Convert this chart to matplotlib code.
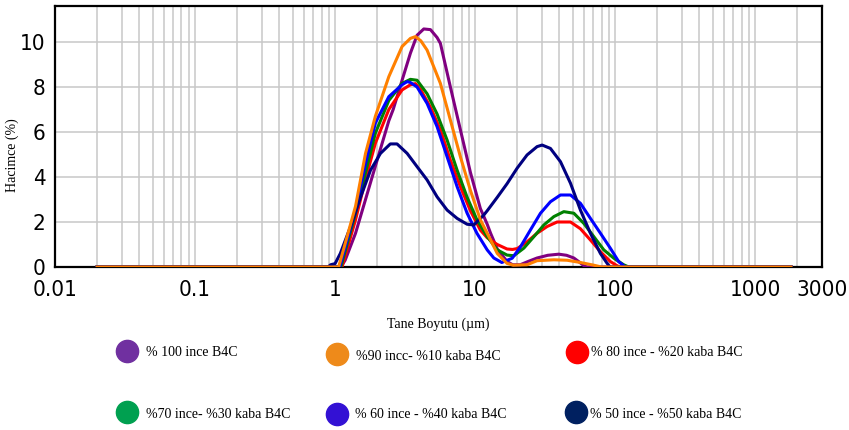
import matplotlib
matplotlib.use('Agg')
import matplotlib.pyplot as plt
from matplotlib.ticker import FixedLocator, NullFormatter

# particle size (um) and volume (%), one pair per mix
size_100 = [0.02, 1.10, 1.18, 1.40, 1.84, 2.42, 2.60, 3.01, 3.45, 3.85, 4.30, 4.80, 5.35, 5.65, 6.66, 7.85, 9.26, 10.9, 12.2, 12.9, 14.4, 16.9, 18.5, 21.0, 24.0, 27.7, 33.0, 39.6, 45.0, 50.7, 56.0, 60.0, 63.0, 1800]
vol_100 = [0, 0, 0.3, 1.5, 4.0, 6.5, 7.0, 8.3, 9.5, 10.3, 10.58, 10.55, 10.2, 9.94, 8.0, 6.1, 4.2, 2.6, 1.9, 1.5, 0.8, 0.25, 0.1, 0.1, 0.25, 0.4, 0.52, 0.57, 0.52, 0.4, 0.2, 0.05, 0, 0]

size_90 = [0.02, 1.06, 1.20, 1.40, 1.65, 1.94, 2.42, 3.01, 3.45, 3.75, 4.10, 4.54, 5.65, 6.66, 7.85, 9.26, 10.9, 12.9, 14.4, 16.9, 18.7, 23.5, 27.7, 36.5, 45.4, 56.5, 70.4, 80.0, 1800]
vol_90 = [0, 0, 1.2, 2.7, 5.05, 6.7, 8.46, 9.8, 10.16, 10.24, 10.05, 9.64, 8.16, 6.53, 4.9, 3.4, 2.1, 1.2, 0.6, 0.16, 0.08, 0.1, 0.28, 0.32, 0.3, 0.2, 0.08, 0, 0]

size_80 = [0.02, 1.12, 1.40, 1.65, 1.94, 2.42, 3.01, 3.45, 3.75, 4.07, 4.80, 5.65, 6.66, 7.85, 9.26, 10.9, 12.2, 13.6, 14.4, 16.9, 18.5, 20.0, 23.5, 27.7, 32.7, 38.5, 48.0, 56.5, 66.6, 78.5, 92.5, 103, 108, 1800]
vol_80 = [0, 0, 2.1, 3.9, 5.5, 7.0, 7.87, 8.1, 8.15, 7.9, 7.1, 6.1, 4.75, 3.57, 2.5, 1.64, 1.3, 1.1, 1.0, 0.8, 0.78, 0.82, 1.12, 1.5, 1.8, 2.0, 2.0, 1.7, 1.2, 0.68, 0.24, 0.06, 0, 0]

size_70 = [0.02, 1.10, 1.40, 1.65, 1.94, 2.42, 3.01, 3.45, 3.85, 4.54, 5.35, 6.31, 7.44, 8.77, 10.3, 12.2, 14.4, 16.9, 18.9, 22.3, 26.3, 31.0, 36.5, 43.0, 50.7, 59.7, 70.4, 83.0, 97.9, 115, 125, 1800]
vol_70 = [0, 0, 2.4, 4.2, 5.95, 7.4, 8.16, 8.34, 8.3, 7.7, 6.8, 5.64, 4.3, 3.1, 2.1, 1.35, 0.76, 0.53, 0.5, 0.84, 1.35, 1.87, 2.24, 2.46, 2.39, 1.94, 1.35, 0.76, 0.39, 0.1, 0, 0]

size_60 = [0.02, 1.08, 1.40, 1.65, 1.94, 2.42, 3.01, 3.27, 3.45, 3.85, 4.54, 5.35, 6.31, 7.44, 8.77, 10.3, 12.2, 13.6, 15.5, 18.4, 21.1, 24.8, 29.3, 34.5, 40.7, 48.0, 56.5, 66.6, 78.5, 92.5, 106, 118, 1800]
vol_60 = [0, 0, 2.53, 4.6, 6.4, 7.57, 8.1, 8.24, 8.2, 8.0, 7.27, 6.24, 4.9, 3.57, 2.39, 1.5, 0.76, 0.4, 0.2, 0.39, 0.9, 1.64, 2.39, 2.9, 3.2, 3.2, 2.83, 2.16, 1.5, 0.83, 0.24, 0, 0]

size_50 = [0.02, 0.89, 0.93, 1.00, 1.09, 1.29, 1.52, 1.79, 2.11, 2.48, 2.77, 3.27, 3.85, 4.54, 5.35, 6.31, 7.44, 8.77, 9.79, 11.5, 12.2, 14.4, 16.9, 20.0, 23.5, 27.7, 30.1, 34.5, 40.7, 48.0, 56.5, 66.6, 78.5, 87.7, 92.0, 1800]
vol_50 = [0, 0, 0.1, 0.15, 0.6, 1.8, 3.1, 4.3, 5.05, 5.47, 5.47, 5.05, 4.46, 3.87, 3.12, 2.53, 2.16, 1.9, 1.87, 2.3, 2.5, 3.1, 3.7, 4.4, 4.98, 5.35, 5.42, 5.27, 4.68, 3.72, 2.53, 1.5, 0.6, 0.16, 0, 0]

labels = ['% 100 ince B4C', '%90 incc- %10 kaba B4C', '% 80 ince - %20 kaba B4C',
          '%70 ince- %30 kaba B4C', '% 60 ince - %40 kaba B4C', '% 50 ince - %50 kaba B4C']
line_colors = ['#800080', '#ff8000', '#ff0000', '#008000', '#0000ff', '#000080']
legend_colors = ['#7030a0', '#ee8a1a', '#ff0000', '#00a050', '#3311d4', '#002060']

xticks = [0.01, 0.1, 1, 10, 100, 1000, 3000]
xticklabels = ['0.01', '0.1', '1', '10', '100', '1000', '3000']
yticks = [0, 2, 4, 6, 8, 10]

sizes = [size_100, size_90, size_80, size_70, size_60, size_50]
vols = [vol_100, vol_90, vol_80, vol_70, vol_60, vol_50]

fig = plt.figure(figsize=(8.49, 4.30), dpi=100)
ax = fig.add_axes([55/849, 1 - 267/430, (822 - 55)/849, (267 - 6)/430])

# orange last so it sits on top of the flat zero line
order = [0, 2, 3, 4, 5, 1]
for i in order:
    ax.plot(sizes[i], vols[i], color=line_colors[i], lw=2.2, solid_joinstyle='round', zorder=3)

ax.set_xscale('log')
ax.set_xlim(0.01, 3000)
ax.set_ylim(0, 11.6)

ax.xaxis.set_major_locator(FixedLocator(xticks))
ax.set_xticklabels(xticklabels)
minor = [m * 10.0**e for e in range(-2, 4) for m in range(2, 10) if m * 10.0**e < 3000]
ax.xaxis.set_minor_locator(FixedLocator(minor))
ax.xaxis.set_minor_formatter(NullFormatter())
ax.set_yticks(yticks)

ax.grid(True, which='both', axis='x', color='#c8c8c8', lw=1.1, zorder=1)
ax.grid(True, which='major', axis='y', color='#c8c8c8', lw=1.1, zorder=1)
ax.set_axisbelow(True)
for s in ax.spines.values():
    s.set_linewidth(1.6)
    s.set_color('black')
ax.tick_params(which='both', length=0)
ax.tick_params(axis='x', pad=9)
ax.tick_params(axis='y', pad=7)
for lab in ax.get_xticklabels() + ax.get_yticklabels():
    lab.set_family('DejaVu Sans')
    lab.set_fontstretch('condensed')
    lab.set_fontsize(16)

serif = ['Liberation Serif', 'DejaVu Serif']
ax.set_ylabel('Hacimce (%)', family=serif, fontsize=10)
ax.yaxis.set_label_coords(-0.047, 0.43)
ax.set_xlabel('Tane Boyutu (\u00b5m)', family=serif, fontsize=10)
ax.xaxis.set_label_coords(0.5, -0.195)

# legend drawn by hand: circle + label, two rows of three
lax = fig.add_axes([0, 0, 1, 1])
lax.set_xlim(0, 849)
lax.set_ylim(430, 0)
lax.axis('off')
marker_xy = [(127, 351), (337, 354), (577, 352), (127, 412), (337, 414), (576, 412)]
text_xy = [(146, 353), (356, 356), (591, 353), (146, 414), (355, 415), (590, 414)]
for (mx, my), (tx, ty), c, lab in zip(marker_xy, text_xy, legend_colors, labels):
    lax.plot([mx], [my], 'o', ms=16, color=c, mec=c)
    lax.text(tx, ty, lab, family=serif, fontsize=10, va='center', ha='left')

fig.savefig('out.png', dpi=100)
